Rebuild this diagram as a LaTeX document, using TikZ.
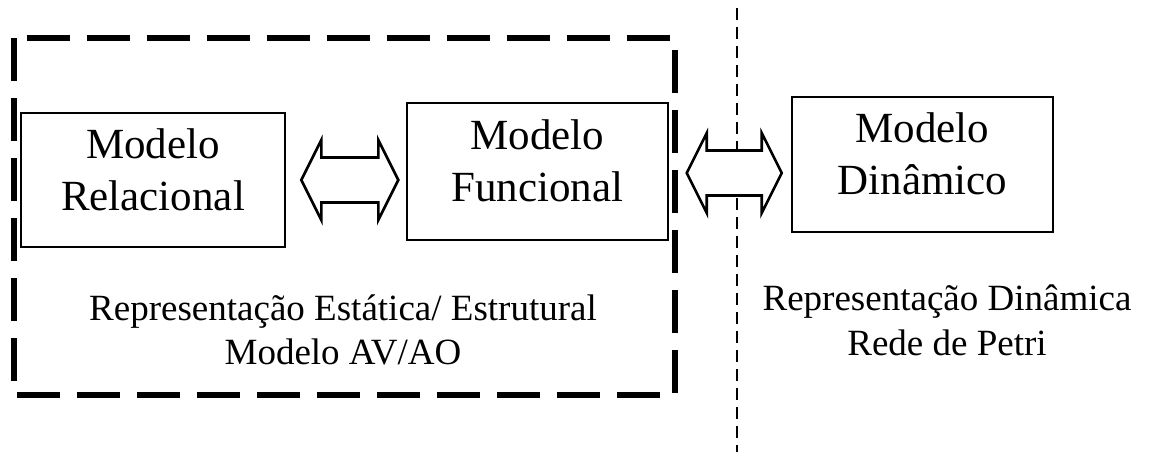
\documentclass[tikz,border=0pt]{standalone}
\usepackage{fontspec}
\setmainfont{Liberation Serif}
\usetikzlibrary{calc,fit}
\tikzset{
  modelbox/.style={draw, line width=1.3pt, inner sep=0pt},
  boxtext/.style={font=\fontsize{21.5pt}{26pt}\selectfont, align=center, inner sep=0pt},
  lowtext/.style={font=\fontsize{18.5pt}{22pt}\selectfont, inner sep=0pt, anchor=base},
  groupframe/.style={line width=2.8pt, dash pattern=on 21.5pt off 8.5pt},
  divider/.style={line width=1pt, dash pattern=on 6pt off 3.5pt},
  pics/dblarrow/.style={code={
    \draw[line width=1.3pt, fill=white, line join=miter]
      (0,0) -- (20,-40) -- (20,-22.5) -- (#1-20,-22.5) -- (#1-20,-40) -- (#1,0)
      -- (#1-20,40) -- (#1-20,22.5) -- (20,22.5) -- (20,40) -- cycle;
  }}
}
\begin{document}
\begin{tikzpicture}[x=0.5pt,y=-0.5pt]
\useasboundingbox (0,0) rectangle (1151,452);
% group frame
\draw[groupframe] (14,38) rectangle (675,395);
% divider
\coordinate (divtop) at (737,8);
\coordinate (divbot) at (737,452);
\draw[divider] (divtop) -- (divbot);
% boxes
\node[modelbox, fit={(21,113) (285,247)}] (rel) {};
\node[modelbox, fit={(407,103) (668,240)}] (fun) {};
\node[modelbox, fit={(792,97) (1053,232)}] (din) {};
\node[boxtext] (relT) at ($(rel.center)+(0,-10.5)$) {Modelo\\Relacional};
\node[boxtext] (funT) at ($(fun.center)+(0,-10.5)$) {Modelo\\Funcional};
\node[boxtext] (dinT) at ($(din.center)+(0,-10.5)$) {Modelo\\Dinâmico};
% connectors (hollow double arrows)
\coordinate (a1) at ($(rel.east |- 0,180)+(15,0)$);
\coordinate (a2) at ($(din.west |- 0,173)+(-104,0)$);
\pic at (a1) {dblarrow={97}};
\pic at (a2) {dblarrow={95}};
% captions
\node[lowtext] (st1) at (343,320) {Representação Estática/ Estrutural};
\node[lowtext] (st2) at (343,364) {Modelo AV/AO};
\node[lowtext] (dy1) at (947,310) {Representação Dinâmica};
\node[lowtext] (dy2) at (947,355) {Rede de Petri};
\end{tikzpicture}
\end{document}
